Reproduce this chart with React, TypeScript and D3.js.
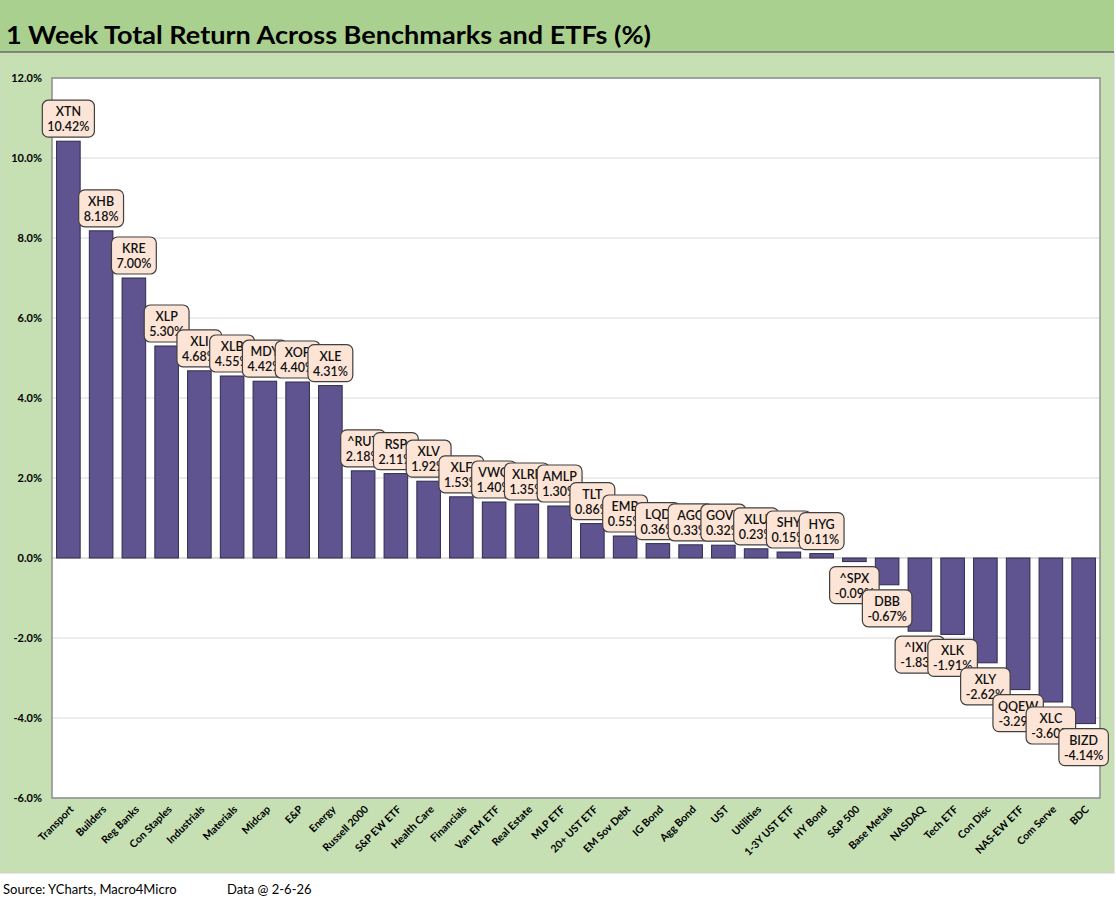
import * as d3 from 'd3'
import { useEffect, useRef } from 'react'

const categories = [
  'Transport', 'Builders', 'Reg Banks', 'Con Staples', 'Industrials', 'Materials', 'Midcap', 'E&P',
  'Energy', 'Russell 2000', 'S&P EW ETF', 'Health Care', 'Financials', 'Van EM ETF', 'Real Estate',
  'MLP ETF', '20+ UST ETF', 'EM Sov Debt', 'IG Bond', 'Agg Bond', 'UST', 'Utilities', '1-3Y UST ETF',
  'HY Bond', 'S&P 500', 'Base Metals', 'NASDAQ', 'Tech ETF', 'Con Disc', 'NAS-EW ETF', 'Com Serve', 'BDC',
]

const tickers = [
  'XTN', 'XHB', 'KRE', 'XLP', 'XLI', 'XLB', 'MDY', 'XOP', 'XLE', '^RUT', 'RSP', 'XLV', 'XLF', 'VWO',
  'XLRE', 'AMLP', 'TLT', 'EMB', 'LQD', 'AGG', 'GOVT', 'XLU', 'SHY', 'HYG', '^SPX', 'DBB', '^IXIC',
  'XLK', 'XLY', 'QQEW', 'XLC', 'BIZD',
]

const returns = [
  10.42, 8.18, 7.0, 5.3, 4.68, 4.55, 4.42, 4.4, 4.31, 2.18, 2.11, 1.92, 1.53, 1.4, 1.35, 1.3, 0.86,
  0.55, 0.36, 0.33, 0.32, 0.23, 0.15, 0.11, -0.09, -0.67, -1.83, -1.91, -2.62, -3.29, -3.6, -4.14,
]

const yTicks = [12, 10, 8, 6, 4, 2, 0, -2, -4, -6]

const font = 'Lato, "Open Sans", sans-serif'

const App = () => {
  const ref = useRef<SVGSVGElement>(null)

  useEffect(() => {
    document.body.style.margin = '0'
    const svg = d3.select(ref.current)
    svg.selectAll('*').remove()

    const W = 1116
    const H = 911
    const plot = { left: 52, right: 1100, top: 78, bottom: 798 }

    // backgrounds
    svg.append('rect').attr('width', W).attr('height', H).attr('fill', '#ffffff')
    svg.append('rect').attr('x', 0).attr('y', 52).attr('width', 1114).attr('height', 821)
      .attr('fill', '#c6e0b4').attr('stroke', '#d0d0d0').attr('stroke-width', 1)
    svg.append('rect').attr('x', 0).attr('y', 0).attr('width', 1114).attr('height', 52).attr('fill', '#a9d08e')
    svg.append('line').attr('x1', 0).attr('x2', 1114).attr('y1', 52).attr('y2', 52)
      .attr('stroke', '#6b6b6b').attr('stroke-width', 1.5)

    svg.append('text').attr('x', 6).attr('y', 44)
      .attr('font-family', font).attr('font-weight', 700).attr('font-size', 25)
      .attr('fill', '#000').attr('textLength', 645).attr('lengthAdjust', 'spacingAndGlyphs')
      .text('1 Week Total Return Across Benchmarks and ETFs (%)')

    const x = d3.scaleBand<string>().domain(categories).range([plot.left, plot.right]).paddingInner(0.28).paddingOuter(0.14)
    const y = d3.scaleLinear().domain([-6, 12]).range([plot.bottom, plot.top])

    svg.append('rect').attr('x', plot.left).attr('y', plot.top)
      .attr('width', plot.right - plot.left).attr('height', plot.bottom - plot.top)
      .attr('fill', '#ffffff')

    // grid
    svg.append('g').selectAll('line').data(yTicks).join('line')
      .attr('x1', plot.left).attr('x2', plot.right)
      .attr('y1', (d) => y(d)).attr('y2', (d) => y(d))
      .attr('stroke', (d) => (d === 0 ? '#bfbfbf' : '#d9d9d9')).attr('stroke-width', 1)

    svg.append('rect').attr('x', plot.left).attr('y', plot.top)
      .attr('width', plot.right - plot.left).attr('height', plot.bottom - plot.top)
      .attr('fill', 'none').attr('stroke', '#8c8c8c').attr('stroke-width', 1.5)

    // y axis labels
    svg.append('g').selectAll('text').data(yTicks).join('text')
      .attr('x', 42).attr('y', (d) => y(d) + 4)
      .attr('text-anchor', 'end').attr('font-family', font).attr('font-weight', 700)
      .attr('font-size', 11).attr('fill', '#000')
      .text((d) => d.toFixed(1) + '%')

    // bars
    svg.append('g').selectAll('rect').data(returns).join('rect')
      .attr('x', (_d, i) => x(categories[i]) as number)
      .attr('width', x.bandwidth())
      .attr('y', (d) => y(Math.max(0, d)))
      .attr('height', (d) => Math.abs(y(d) - y(0)))
      .attr('fill', '#5f5490').attr('stroke', '#2f2a4a').attr('stroke-width', 1)

    // x labels
    svg.append('g').selectAll('text').data(categories).join('text')
      .attr('transform', (d) => `translate(${(x(d) as number) + x.bandwidth() / 2 + 6},${plot.bottom + 12}) rotate(-45)`)
      .attr('text-anchor', 'end').attr('font-family', font).attr('font-weight', 700)
      .attr('font-size', 10.5).attr('fill', '#000')
      .text((d) => d)

    // data labels
    const labels = svg.append('g')
    returns.forEach((v, i) => {
      const cx = (x(categories[i]) as number) + x.bandwidth() / 2
      const boxH = 37
      const top = v >= 0 ? y(v) - 4 - boxH : y(v) + 5
      const g = labels.append('g')
      const rect = g.append('rect')
      const t1 = g.append('text').attr('x', cx).attr('y', top + 16)
        .attr('text-anchor', 'middle').attr('font-family', font).attr('font-size', 12.5)
        .attr('font-weight', 600).attr('fill', '#111').text(tickers[i])
      const t2 = g.append('text').attr('x', cx).attr('y', top + 31)
        .attr('text-anchor', 'middle').attr('font-family', font).attr('font-size', 12.5)
        .attr('font-weight', 600).attr('fill', '#111').text(v.toFixed(2) + '%')
      const w = Math.max(
        (t1.node() as SVGTextElement).getComputedTextLength(),
        (t2.node() as SVGTextElement).getComputedTextLength()
      ) + 10
      rect.attr('x', cx - w / 2).attr('y', top).attr('width', w).attr('height', boxH)
        .attr('rx', 6).attr('fill', '#fce4d6').attr('stroke', '#404040').attr('stroke-width', 1.2)
    })

    // footer
    svg.append('text').attr('x', 3).attr('y', 894).attr('font-family', font)
      .attr('font-size', 13).attr('fill', '#000').text('Source: YCharts, Macro4Micro')
    svg.append('text').attr('x', 227).attr('y', 894).attr('font-family', font)
      .attr('font-size', 13).attr('fill', '#000').text('Data @ 2-6-26')
  }, [])

  return <svg ref={ref} width={1116} height={911} style={{ display: 'block' }}></svg>
}

export default App
